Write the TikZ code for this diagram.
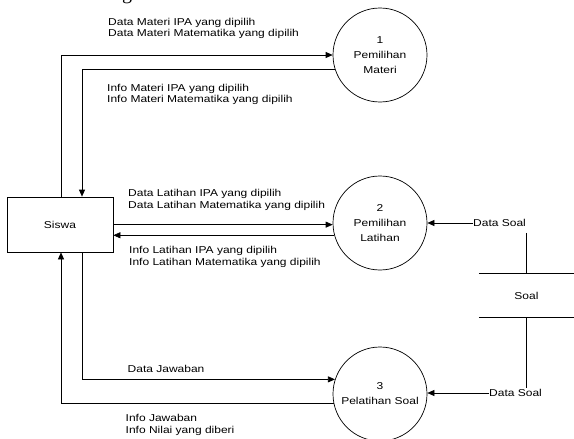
\documentclass[tikz,border=0pt]{standalone}
\usepackage{fontspec}
\setmainfont{Liberation Sans}[FakeStretch=1.2]
\newfontfamily\serifg{Liberation Serif}
\usetikzlibrary{arrows.meta}
\tikzset{
  flow/.style={draw=black, line width=0.7pt, -{Triangle[length=7pt,width=6pt]}},
  plain/.style={draw=black, line width=0.7pt},
  proc/.style={circle, draw=black, line width=0.7pt, minimum size=94pt, inner sep=0pt, align=center,
    font=\fontsize{10}{15}\selectfont},
  lbl/.style={anchor=west, align=left, inner sep=0pt, font=\fontsize{10}{11.7}\selectfont},
  ent/.style={rectangle, draw=black, line width=0.7pt, minimum width=106pt, minimum height=55pt,
    font=\fontsize{10}{12}\selectfont},
  store/.style={rectangle, draw=none, minimum width=95pt, minimum height=43pt, inner sep=0pt,
    font=\fontsize{10}{12}\selectfont}
}
\begin{document}
\begin{tikzpicture}[x=1pt,y=-1pt]
\useasboundingbox (0,0) rectangle (574,439);
\fill[white] (0,0) rectangle (574,439);
% stray heading fragment
\node[font=\serifg\fontsize{20}{20}\selectfont, anchor=base, inner sep=0pt] (frag) at (127,-0.5) {g};
% nodes
\node[ent] (siswa) at (60,224.5) {Siswa};
\node[proc] (c1) at (380,55) {1\\Pemilihan\\Materi};
\node[proc] (c2) at (380,223) {2\\Pemilihan\\Latihan};
\node[proc] (c3) at (380,394) {3\\Pelatihan Soal};
\node[store] (soal) at (526.5,295.5) {Soal};
\draw[plain] (soal.north west) -- (soal.north east);
\draw[plain] (soal.south west) -- (soal.south east);
\node[lbl] (ds1) at (473,223) {Data Soal};
\node[lbl] (ds2) at (489,393) {Data Soal};
\coordinate (xo) at (61,0);
\coordinate (xi) at (82,0);
% flows
\draw[flow] (siswa.north -| xo) |- (c1);
\draw[flow] (c1.198.6) -| (siswa.north -| xi);
\draw[flow] (siswa.east |- c2.182.4) -- (c2.182.4);
\draw[flow] (c2.195.7) -- (siswa.east |- c2.195.7);
\draw[flow] (siswa.south -| xi) |- (c3.162);
\draw[flow] (c3.191) -| (siswa.south -| xo);
\draw[flow] (ds1.west) -- (c2.east |- ds1.west);
\draw[flow] (ds2.west) -- (c3.east |- ds2.west);
\coordinate (t1) at ([yshift=-6pt]ds1.south -| soal.north);
\draw[plain] (t1) -- (soal.north);
\coordinate (t2) at ([yshift=1.5pt]ds2.north -| soal.south);
\draw[plain] (soal.south) -- (t2);
% labels
\node[lbl] (l1) at (108,28.5) {Data Materi IPA yang dipilih\\Data Materi Matematika yang dipilih};
\node[lbl] (l2) at (107,94.5) {Info Materi IPA yang dipilih\\Info Materi Matematika yang dipilih};
\node[lbl] (l3) at (128,200) {Data Latihan IPA yang dipilih\\Data Latihan Matematika yang dipilih};
\node[lbl] (l4) at (129,257) {Info Latihan IPA yang dipilih\\Info Latihan Matematika yang dipilih};
\node[lbl] (l5) at (127.5,369) {Data Jawaban};
\node[lbl] (l6) at (125.5,424.7) {Info Jawaban\\Info Nilai yang diberi};
\end{tikzpicture}
\end{document}
